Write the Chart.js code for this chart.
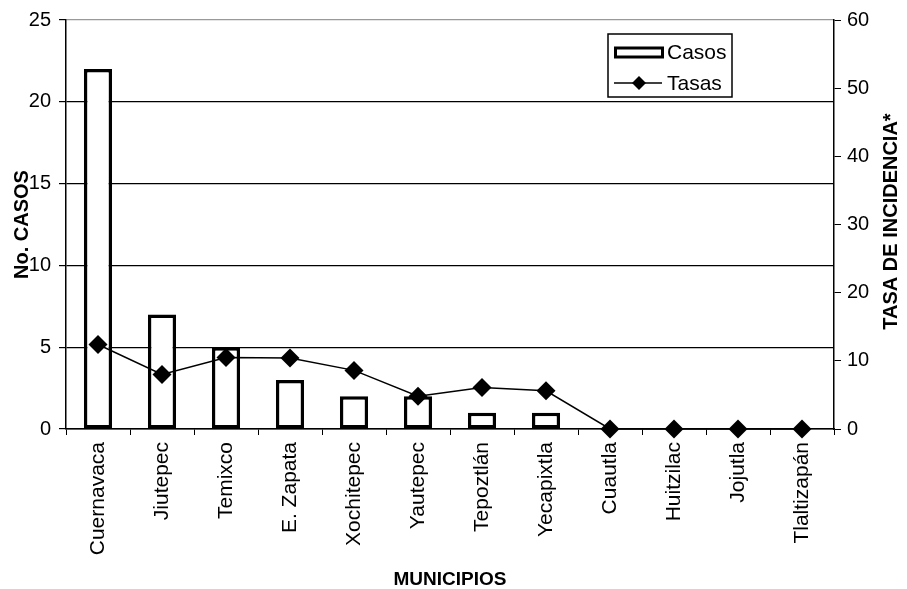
<!DOCTYPE html>
<html>
<head>
<meta charset="utf-8">
<script src="https://cdn.jsdelivr.net/npm/chart.js@4"></script>
<style>
html,body{margin:0;padding:0;background:#fff;}
#wrap{width:907px;height:589px;}
</style>
</head>
<body>
<div id="wrap"><canvas id="c" width="907" height="589"></canvas></div>
<script>
const categories = ['Cuernavaca','Jiutepec','Temixco','E. Zapata','Xochitepec','Yautepec','Tepoztlán','Yecapixtla','Cuautla','Huitzilac','Jojutla','Tlaltizapán'];
const casos = [22, 7, 5, 3, 2, 2, 1, 1, 0, 0, 0, 0];
const tasas = [12.4, 8.0, 10.5, 10.4, 8.6, 4.8, 6.1, 5.6, 0, 0, 0, 0];
const leftTicks = [0, 5, 10, 15, 20, 25];
const rightTicks = [0, 10, 20, 30, 40, 50, 60];
const xTitle = 'MUNICIPIOS';
const leftTitle = 'No. CASOS';
const rightTitle = 'TASA DE INCIDENCIA*';
const legendLabels = ['Casos', 'Tasas'];

const FONT = '"Liberation Sans", Arial, sans-serif';
Chart.defaults.font.family = FONT;
Chart.defaults.color = '#000';

const extras = {
  id: 'extras',
  afterDraw(chart) {
    const ctx = chart.ctx;
    const a = chart.chartArea;
    ctx.save();
    // right axis title (reads bottom to top)
    ctx.font = 'bold 20px ' + FONT;
    ctx.fillStyle = '#000';
    ctx.textAlign = 'center';
    ctx.textBaseline = 'middle';
    ctx.translate(chart.width - 16, (a.top + a.bottom) / 2 - 3);
    ctx.rotate(-Math.PI / 2);
    ctx.fillText(rightTitle, 0, 0);
    ctx.restore();

    // legend
    ctx.save();
    const bx = a.right - 226, by = a.top + 14, bw = 124, bh = 63;
    ctx.fillStyle = '#fff';
    ctx.fillRect(bx, by, bw, bh);
    ctx.strokeStyle = '#000';
    ctx.lineWidth = 1.5;
    ctx.strokeRect(bx, by, bw, bh);
    // Casos symbol
    ctx.lineWidth = 3;
    ctx.strokeRect(bx + 7.5, by + 14, 47, 9);
    // Tasas symbol
    const ty = by + 49;
    ctx.lineWidth = 1.5;
    ctx.beginPath();
    ctx.moveTo(bx + 6, ty); ctx.lineTo(bx + 54, ty); ctx.stroke();
    ctx.fillStyle = '#000';
    const dx = bx + 31, r = 7;
    ctx.beginPath();
    ctx.moveTo(dx - r, ty); ctx.lineTo(dx, ty - r); ctx.lineTo(dx + r, ty); ctx.lineTo(dx, ty + r);
    ctx.closePath(); ctx.fill();
    ctx.font = '21px ' + FONT;
    ctx.textAlign = 'left';
    ctx.textBaseline = 'middle';
    ctx.fillText(legendLabels[0], bx + 59, by + 19);
    ctx.fillText(legendLabels[1], bx + 59, ty + 1);
    ctx.restore();
  }
};

new Chart(document.getElementById('c'), {
  type: 'bar',
  data: {
    labels: categories,
    datasets: [
      {
        type: 'line',
        label: legendLabels[1],
        data: tasas,
        yAxisID: 'y1',
        borderColor: '#000',
        borderWidth: 1.5,
        backgroundColor: '#000',
        pointStyle: 'rectRot',
        pointRadius: 9.5,
        pointBackgroundColor: '#000',
        pointBorderWidth: 0,
        tension: 0,
        clip: false,
        order: 0
      },
      {
        type: 'bar',
        label: legendLabels[0],
        data: casos,
        yAxisID: 'y',
        backgroundColor: '#fff',
        borderColor: '#000',
        borderWidth: 3.5,
        borderSkipped: false,
        barPercentage: 0.44,
        categoryPercentage: 1,
        order: 1
      }
    ]
  },
  options: {
    responsive: false,
    animation: false,
    devicePixelRatio: 1,
    layout: { padding: { top: 19, left: 0, right: 0, bottom: 0 } },
    plugins: { legend: { display: false }, tooltip: { enabled: false } },
    scales: {
      x: {
        position: 'bottom',
        grid: { drawOnChartArea: false, drawTicks: true, tickLength: 6, color: '#000', tickColor: '#000', offset: true },
        border: { color: '#000', width: 1.5 },
        ticks: { font: { size: 21 }, minRotation: 90, maxRotation: 90, padding: 7, autoSkip: false, color: '#000' },
        title: { display: true, text: xTitle, font: { size: 19, weight: 'bold', lineHeight: 1 }, padding: { top: 0, bottom: 0 }, color: '#000' },
        afterFit(s) { s.height = 160; }
      },
      y: {
        position: 'left',
        min: leftTicks[0],
        max: leftTicks[leftTicks.length - 1],
        afterBuildTicks(s) { s.ticks = leftTicks.map(v => ({ value: v })); },
        grid: {
          color: (c) => (c.tick && c.tick.value === 25) ? '#999' : '#000',
          lineWidth: 1.2,
          tickLength: 7,
          tickColor: '#000'
        },
        border: { color: '#000', width: 1.5 },
        ticks: { font: { size: 20 }, padding: 8, color: '#000' },
        title: { display: true, text: leftTitle, font: { size: 20, weight: 'bold', lineHeight: 1.2 }, padding: { top: 10, bottom: 0 }, color: '#000' },
        afterFit(s) { s.width = 66; }
      },
      y1: {
        position: 'right',
        min: rightTicks[0],
        max: rightTicks[rightTicks.length - 1],
        afterBuildTicks(s) { s.ticks = rightTicks.map(v => ({ value: v })); },
        grid: { drawOnChartArea: false, tickLength: 7, color: '#000', tickColor: '#000' },
        border: { color: '#000', width: 1.5 },
        ticks: { font: { size: 20 }, padding: 6, color: '#000' },
        afterFit(s) { s.width = 73; }
      }
    }
  },
  plugins: [extras]
});
</script>
</body>
</html>
